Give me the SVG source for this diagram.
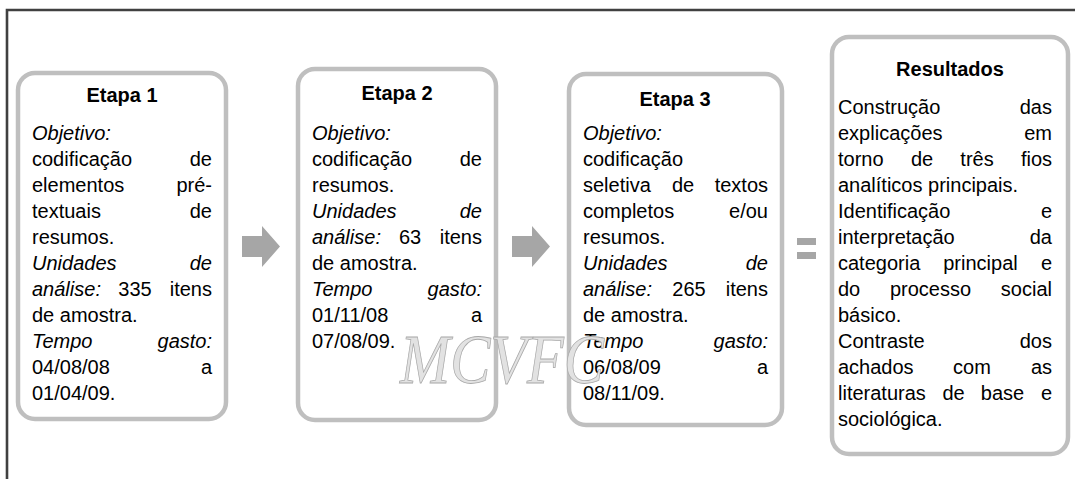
<svg xmlns="http://www.w3.org/2000/svg" width="1075" height="479" viewBox="0 0 1075 479">
<style>
text{font-family:"Liberation Sans",Arial,sans-serif;font-size:20px;fill:#000}
.h{font-weight:bold;text-anchor:middle}
.i{font-style:italic}
.e{text-anchor:end}
.m{text-anchor:middle}
.box{fill:#fff;stroke:#bfbfbf;stroke-width:4.5}
.arr{fill:#a6a6a6}
.wm{font-family:"Liberation Serif",serif;font-style:italic;font-size:70px;fill:#e2e2e2;stroke:#a9a9a9;stroke-width:0.8}
</style>
<rect width="1075" height="479" fill="#fff"/>
<path d="M1075 10H7V479" fill="none" stroke="#404040" stroke-width="2.6"/>

<g id="etapa1">
<rect class="box" x="18" y="73" width="208" height="346" rx="17"/>
<text class="h" x="122" y="102">Etapa 1</text>
<text class="i" x="32" y="140">Objetivo:</text>
<text x="32" y="166">codificação</text><text class="e" x="212" y="166">de</text>
<text x="32" y="192">elementos</text><text class="e" x="212" y="192">pré-</text>
<text x="32" y="218">textuais</text><text class="e" x="212" y="218">de</text>
<text x="32" y="244">resumos.</text>
<text class="i" x="32" y="270">Unidades</text><text class="i e" x="212" y="270">de</text>
<text class="i" x="32" y="296">análise:</text><text class="m" x="135" y="296">335</text><text class="e" x="212" y="296">itens</text>
<text x="32" y="322">de amostra.</text>
<text class="i" x="32" y="348">Tempo</text><text class="i e" x="212" y="348">gasto:</text>
<text x="32" y="374">04/08/08</text><text class="e" x="212" y="374">a</text>
<text x="32" y="400">01/04/09.</text>
</g>

<g id="etapa2">
<rect class="box" x="298" y="69" width="198" height="351" rx="17"/>
<text class="h" x="397" y="100">Etapa 2</text>
<text class="i" x="312" y="140">Objetivo:</text>
<text x="312" y="166">codificação</text><text class="e" x="482" y="166">de</text>
<text x="312" y="192">resumos.</text>
<text class="i" x="312" y="218">Unidades</text><text class="i e" x="482" y="218">de</text>
<text class="i" x="312" y="244">análise:</text><text class="m" x="410" y="244">63</text><text class="e" x="482" y="244">itens</text>
<text x="312" y="270">de amostra.</text>
<text class="i" x="312" y="296">Tempo</text><text class="i e" x="482" y="296">gasto:</text>
<text x="312" y="322">01/11/08</text><text class="e" x="482" y="322">a</text>
<text x="312" y="348">07/08/09.</text>
</g>

<g id="etapa3">
<rect class="box" x="569" y="74" width="213" height="351" rx="17"/>
<text class="h" x="675" y="106">Etapa 3</text>
<text class="i" x="583" y="140">Objetivo:</text>
<text x="583" y="166">codificação</text>
<text x="583" y="192">seletiva</text><text class="m" x="683" y="192">de</text><text class="e" x="768" y="192">textos</text>
<text x="583" y="218">completos</text><text class="e" x="768" y="218">e/ou</text>
<text x="583" y="244">resumos.</text>
<text class="i" x="583" y="270">Unidades</text><text class="i e" x="768" y="270">de</text>
<text class="i" x="583" y="296">análise:</text><text class="m" x="689" y="296">265</text><text class="e" x="768" y="296">itens</text>
<text x="583" y="322">de amostra.</text>
<text class="i" x="583" y="348">Tempo</text><text class="i e" x="768" y="348">gasto:</text>
<text x="583" y="374">06/08/09</text><text class="e" x="768" y="374">a</text>
<text x="583" y="400">08/11/09.</text>
</g>

<g id="resultados">
<rect class="box" x="832" y="37" width="236" height="417" rx="17"/>
<text class="h" x="950" y="76">Resultados</text>
<text x="838" y="114">Construção</text><text class="e" x="1052" y="114">das</text>
<text x="838" y="140">explicações</text><text class="e" x="1052" y="140">em</text>
<text x="838" y="166">torno</text><text class="m" x="922" y="166">de</text><text class="m" x="977" y="166">três</text><text class="e" x="1052" y="166">fios</text>
<text x="838" y="192">analíticos principais.</text>
<text x="838" y="218">Identificação</text><text class="e" x="1052" y="218">e</text>
<text x="838" y="244">interpretação</text><text class="e" x="1052" y="244">da</text>
<text x="838" y="270">categoria</text><text class="m" x="980.5" y="270">principal</text><text class="e" x="1052" y="270">e</text>
<text x="838" y="296">do</text><text class="m" x="930.5" y="296">processo</text><text class="e" x="1052" y="296">social</text>
<text x="838" y="322">básico.</text>
<text x="838" y="348">Contraste</text><text class="e" x="1052" y="348">dos</text>
<text x="838" y="374">achados</text><text class="m" x="972" y="374">com</text><text class="e" x="1052" y="374">as</text>
<text x="838" y="400">literaturas</text><text class="m" x="953.5" y="400">de</text><text class="m" x="1002.5" y="400">base</text><text class="e" x="1052" y="400">e</text>
<text x="838" y="426">sociológica.</text>
</g>

<g id="connectors">
<path class="arr" d="M242 236H262V226L280 246.5L262 267V257H242Z"/>
<path class="arr" d="M512 236H532V226L550 246.5L532 267V257H512Z"/>
<rect class="arr" x="797" y="238" width="19" height="7"/>
<rect class="arr" x="797" y="252" width="19" height="7"/>
</g>

<text class="wm" x="400" y="383" textLength="204" lengthAdjust="spacingAndGlyphs">MCVFC</text>
</svg>
